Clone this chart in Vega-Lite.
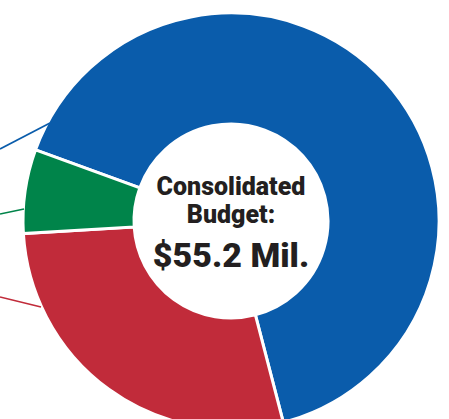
{
  "$schema": "https://vega.github.io/schema/vega-lite/v6.json",
  "width": 449,
  "height": 419,
  "autosize": "none",
  "padding": 0,
  "background": "white",
  "config": {"view": {"stroke": null}},
  "datasets": {
    "budget": [
      {"part": "Share A", "cx": 0, "cy": 0, "amount": 36.1},
      {"part": "Share B", "cx": 0, "cy": 0, "amount": 15.5},
      {"part": "Share C", "cx": 0, "cy": 0, "amount": 3.6}
    ],
    "leaders": [
      {"part": "Share A", "x": -231, "y": -72, "x2": -181, "y2": -98},
      {"part": "Share C", "x": -231, "y": -7, "x2": -207, "y2": -12},
      {"part": "Share B", "x": -231, "y": 76, "x2": -190, "y2": 86}
    ],
    "centre": [{"cx": 0, "cy": 0}]
  },
  "resolve": {"scale": {"x": "shared", "y": "shared"}},
  "layer": [
    {
      "data": {"name": "budget"},
      "mark": {"type": "arc", "outerRadius": 208, "innerRadius": 97, "stroke": "white", "strokeWidth": 3},
      "encoding": {
        "x": {"field": "cx", "type": "quantitative", "scale": {"domain": [-231, 218], "nice": false, "zero": false}, "axis": null},
        "y": {"field": "cy", "type": "quantitative", "scale": {"domain": [-221, 198], "nice": false, "zero": false, "reverse": true}, "axis": null},
        "theta": {"field": "amount", "type": "quantitative", "stack": true, "scale": {"range": [5.0615, 11.3447]}},
        "color": {
          "field": "part",
          "type": "nominal",
          "scale": {"domain": ["Share A", "Share B", "Share C"], "range": ["#0a5cab", "#c12b3a", "#00844a"]},
          "legend": null
        }
      }
    },
    {
      "data": {"name": "leaders"},
      "mark": {"type": "rule", "strokeWidth": 1.7},
      "encoding": {
        "x": {"field": "x", "type": "quantitative"},
        "y": {"field": "y", "type": "quantitative"},
        "x2": {"field": "x2"},
        "y2": {"field": "y2"},
        "color": {"field": "part", "type": "nominal", "legend": null}
      }
    },
    {
      "data": {"name": "centre"},
      "mark": {"type": "text", "text": "Consolidated", "font": "Roboto", "fontWeight": 900, "fontSize": 25, "fill": "#231f20", "baseline": "alphabetic", "align": "center", "dy": -26},
      "encoding": {
        "x": {"field": "cx", "type": "quantitative"},
        "y": {"field": "cy", "type": "quantitative"}
      }
    },
    {
      "data": {"name": "centre"},
      "mark": {"type": "text", "text": "Budget:", "font": "Roboto", "fontWeight": 900, "fontSize": 25, "fill": "#231f20", "baseline": "alphabetic", "align": "center", "dy": 2},
      "encoding": {
        "x": {"field": "cx", "type": "quantitative"},
        "y": {"field": "cy", "type": "quantitative"}
      }
    },
    {
      "data": {"name": "centre"},
      "mark": {"type": "text", "text": "$55.2 Mil.", "font": "Roboto", "fontWeight": 900, "fontSize": 34, "fill": "#231f20", "baseline": "alphabetic", "align": "center", "dy": 46},
      "encoding": {
        "x": {"field": "cx", "type": "quantitative"},
        "y": {"field": "cy", "type": "quantitative"}
      }
    }
  ]
}
